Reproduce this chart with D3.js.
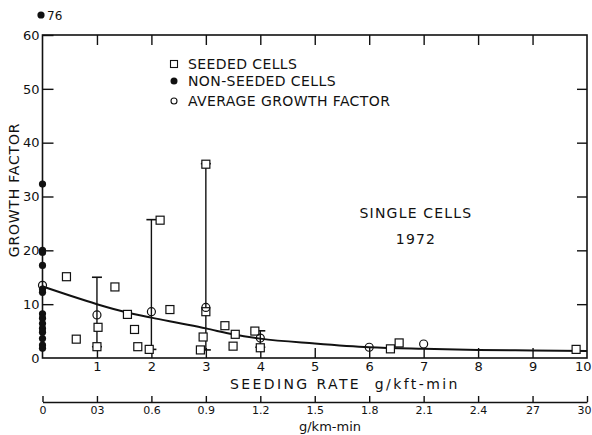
<!DOCTYPE html>
<html>
<head>
<meta charset="utf-8">
<script src="https://cdn.jsdelivr.net/npm/d3@7"></script>
<style>
  body { margin: 0; background: #fff; }
  svg text { font-family: "DejaVu Sans", sans-serif; fill: #111; }
</style>
</head>
<body>
<div id="chart"></div>
<script>
// seeded cells (squares)
const seededX = [0.44, 0.62, 1.02, 1.0, 1.33, 1.56, 1.69, 1.75, 1.96, 2.16, 2.34, 2.9, 2.95, 3.0, 3.0, 3.35, 3.54, 3.5, 3.9, 4.0, 6.39, 6.55, 9.8];
const seededY = [15.1, 3.5, 5.7, 2.1, 13.2, 8.1, 5.3, 2.1, 1.6, 25.6, 9.0, 1.5, 3.9, 36.0, 8.6, 6.0, 4.4, 2.2, 5.0, 1.9, 1.7, 2.8, 1.6];

// non-seeded cells (filled dots at zero rate)
const nonSeededY = [32.3, 20.0, 19.6, 17.2, 12.8, 12.2, 8.2, 7.4, 6.4, 5.5, 4.8, 3.6, 2.4, 1.8];
const offScaleValue = 76;

// average growth factor (open circles)
const avgX = [0, 1, 2, 3, 4, 6, 7];
const avgY = [13.5, 8.0, 8.6, 9.4, 3.7, 2.0, 2.6];

// range bars
const rangeX = [1, 2, 3, 4];
const rangeLow = [2.1, 1.6, 1.5, 2.0];
const rangeHigh = [15.0, 25.7, 36.1, 5.05];

// fitted curve
const fitX = [0, 0.5, 1, 1.5, 2, 2.5, 3, 3.5, 4, 5, 6, 7, 8, 9, 10];
const fitY = [13.3, 11.6, 10.0, 8.6, 7.5, 6.5, 5.5, 4.4, 3.6, 2.7, 2.0, 1.7, 1.5, 1.4, 1.3];

// tick labels
const xTicks = [1, 2, 3, 4, 5, 6, 7, 8, 9, 10];
const yTicks = [0, 10, 20, 30, 40, 50, 60];
const kmTicks = [0, 0.3, 0.6, 0.9, 1.2, 1.5, 1.8, 2.1, 2.4, 2.7, 3.0];
const kmLabels = ['0', '03', '0.6', '0.9', '1.2', '1.5', '1.8', '2.1', '2.4', '27', '30'];

(function() {
    'use strict';

    const W = 592, H = 435;
    const svg = d3.select('#chart').append('svg')
        .attr('width', W)
        .attr('height', H);

    const x = d3.scaleLinear().domain([0, 10]).range([42.5, 587]);
    const xKm = d3.scaleLinear().domain([0, 3]).range([42.5, 587]);
    const y = d3.scaleLinear().domain([0, 60]).range([358, 35]);

    const ink = '#111';

    // frame
    svg.append('rect')
        .attr('x', x(0)).attr('y', y(60))
        .attr('width', x(10) - x(0)).attr('height', y(0) - y(60))
        .attr('fill', 'none').attr('stroke', ink).attr('stroke-width', 1.6);

    // bottom axis (ticks inward)
    const bottomAxis = svg.append('g').attr('transform', `translate(0,${y(0)})`)
        .call(d3.axisBottom(x).tickValues(xTicks).tickSizeInner(-10).tickSizeOuter(0).tickPadding(4).tickFormat(d3.format('d')));
    bottomAxis.select('.domain').remove();
    bottomAxis.selectAll('text').attr('font-size', 13).attr('fill', ink)
        .filter(d => d === 10).attr('text-anchor', 'end').attr('dx', 4);
    bottomAxis.selectAll('line').attr('stroke', ink).attr('stroke-width', 1.4)
        .filter(d => d === 10).remove();

    // extra '0' label under the y axis
    svg.append('text').attr('x', x(0) - 3).attr('y', y(0) + 5)
        .attr('text-anchor', 'end').attr('font-size', 13).text('0');

    // top axis ticks
    const topAxis = svg.append('g').attr('transform', `translate(0,${y(60)})`)
        .call(d3.axisTop(x).tickValues(xTicks.filter(d => d < 10)).tickSizeInner(-10).tickSizeOuter(0).tickFormat(''));
    topAxis.select('.domain').remove();
    topAxis.selectAll('line').attr('stroke', ink).attr('stroke-width', 1.4);

    // left axis
    const leftAxis = svg.append('g').attr('transform', `translate(${x(0)},0)`)
        .call(d3.axisLeft(y).tickValues(yTicks.filter(d => d > 0)).tickSizeInner(-11).tickSizeOuter(0).tickPadding(3));
    leftAxis.select('.domain').remove();
    leftAxis.selectAll('line').attr('stroke', ink).attr('stroke-width', 1.4);
    leftAxis.selectAll('text').attr('font-size', 13).attr('fill', ink);

    // right axis ticks
    const rightAxis = svg.append('g').attr('transform', `translate(${x(10)},0)`)
        .call(d3.axisRight(y).tickValues(yTicks.filter(d => d > 0 && d < 60)).tickSizeInner(-10).tickSizeOuter(0).tickFormat(''));
    rightAxis.select('.domain').remove();
    rightAxis.selectAll('line').attr('stroke', ink).attr('stroke-width', 1.4);

    // axis titles
    svg.append('text')
        .attr('transform', 'translate(19,190) rotate(-90)')
        .attr('text-anchor', 'middle').attr('font-size', 14).attr('letter-spacing', 0.8)
        .text('GROWTH FACTOR');

    svg.append('text').attr('x', 230).attr('y', 389)
        .attr('font-size', 14).attr('letter-spacing', 2.4)
        .style('white-space', 'pre')
        .text('SEEDING RATE  g/kft-min');

    // second (metric) axis
    const kmAxis = svg.append('g').attr('transform', 'translate(0,402)')
        .call(d3.axisBottom(xKm).tickValues(kmTicks).tickSizeInner(-6).tickSizeOuter(0).tickPadding(4)
            .tickFormat((d, i) => kmLabels[i]));
    kmAxis.select('.domain').attr('stroke', ink).attr('stroke-width', 1.4);
    kmAxis.selectAll('line').attr('stroke', ink).attr('stroke-width', 1.4);
    kmAxis.selectAll('text').attr('font-size', 11).attr('fill', ink)
        .filter(d => d === 3).attr('text-anchor', 'end').attr('dx', 4);

    svg.append('text').attr('x', 330).attr('y', 431)
        .attr('text-anchor', 'middle').attr('font-size', 13).text('g/km-min');

    // range bars
    const bars = svg.append('g');
    rangeX.forEach((v, i) => {
        bars.append('line')
            .attr('x1', x(v)).attr('x2', x(v))
            .attr('y1', y(rangeLow[i])).attr('y2', y(rangeHigh[i]))
            .attr('stroke', ink).attr('stroke-width', 1.4);
        [rangeLow[i], rangeHigh[i]].forEach(e => {
            bars.append('line')
                .attr('x1', x(v) - 5).attr('x2', x(v) + 5)
                .attr('y1', y(e)).attr('y2', y(e))
                .attr('stroke', ink).attr('stroke-width', 1.6);
        });
    });

    // fitted curve
    svg.append('path')
        .datum(fitX.map((v, i) => [v, fitY[i]]))
        .attr('d', d3.line().x(d => x(d[0])).y(d => y(d[1])).curve(d3.curveMonotoneX))
        .attr('fill', 'none').attr('stroke', ink).attr('stroke-width', 2);

    // seeded squares
    svg.append('g').selectAll('rect')
        .data(seededX.map((v, i) => [v, seededY[i]]))
        .join('rect')
        .attr('x', d => x(d[0]) - 4).attr('y', d => y(d[1]) - 4)
        .attr('width', 8).attr('height', 8)
        .attr('fill', '#fff').attr('stroke', ink).attr('stroke-width', 1.2);

    // average circles
    svg.append('g').selectAll('circle')
        .data(avgX.map((v, i) => [v, avgY[i]]))
        .join('circle')
        .attr('cx', d => x(d[0])).attr('cy', d => y(d[1])).attr('r', 4)
        .attr('fill', 'none').attr('stroke', ink).attr('stroke-width', 1.2);

    // non-seeded dots
    svg.append('g').selectAll('circle')
        .data(nonSeededY)
        .join('circle')
        .attr('cx', x(0)).attr('cy', d => y(d)).attr('r', 3.6)
        .attr('fill', ink);

    // off-scale point
    svg.append('circle').attr('cx', 41).attr('cy', 15).attr('r', 3.6).attr('fill', ink);
    svg.append('text').attr('x', 47).attr('y', 20).attr('font-size', 12).text(offScaleValue);

    // legend
    const legend = svg.append('g').attr('transform', 'translate(174,0)');
    const legendItems = ['SEEDED CELLS', 'NON-SEEDED CELLS', 'AVERAGE GROWTH FACTOR'];
    const legendY = [64, 81, 101];
    legendItems.forEach((t, i) => {
        const ly = legendY[i];
        if (i === 0) {
            legend.append('rect').attr('x', -3.5).attr('y', ly - 3.5).attr('width', 7).attr('height', 7)
                .attr('fill', '#fff').attr('stroke', ink).attr('stroke-width', 1.1);
        } else if (i === 1) {
            legend.append('circle').attr('cx', 0).attr('cy', ly).attr('r', 3.5).attr('fill', ink);
        } else {
            legend.append('circle').attr('cx', 0).attr('cy', ly).attr('r', 3).attr('fill', 'none')
                .attr('stroke', ink).attr('stroke-width', 1.1);
        }
        legend.append('text').attr('x', 14).attr('y', ly + 5)
            .attr('font-size', 14).attr('letter-spacing', 0.4).text(t);
    });

    // annotation
    svg.append('text').attr('x', 416).attr('y', 218).attr('text-anchor', 'middle')
        .attr('font-size', 14).attr('letter-spacing', 1.2).text('SINGLE CELLS');
    svg.append('text').attr('x', 416).attr('y', 244).attr('text-anchor', 'middle')
        .attr('font-size', 14).attr('letter-spacing', 1.2).text('1972');
})();
</script>
</body>
</html>
